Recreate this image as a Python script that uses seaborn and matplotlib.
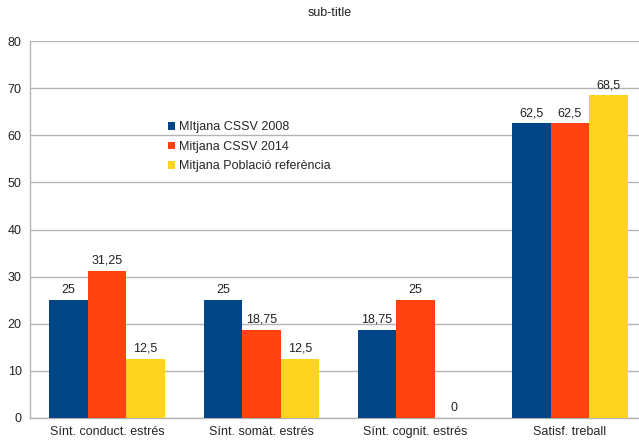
import matplotlib
matplotlib.use("Agg")
import matplotlib.pyplot as plt
import numpy as np
import pandas as pd
import seaborn as sns

categories = ["Sínt. conduct. estrés", "Sínt. somàt. estrés", "Sínt. cognit. estrés", "Satisf. treball"]
series = ["MItjana CSSV 2008", "Mitjana CSSV 2014", "Mitjana Població referència"]
vals_2008 = [25, 25, 18.75, 62.5]
vals_2014 = [31.25, 18.75, 25, 62.5]
vals_ref = [12.5, 12.5, 0, 68.5]
colors = ["#004586", "#ff420e", "#ffd320"]

if __name__ == '__main__':
    sns.set_style("white")
    plt.rcParams['font.family'] = ['Liberation Sans', 'DejaVu Sans']

    rows = []
    for name, vals in zip(series, [vals_2008, vals_2014, vals_ref]):
        for c, v in zip(categories, vals):
            rows.append({"cat": c, "serie": name, "val": v})
    df = pd.DataFrame(rows)

    fig = plt.figure(figsize=(6.39, 4.41), dpi=100)
    ax = fig.add_axes([30 / 639, 1 - 418 / 441, 617 / 639, 377 / 441])
    sns.barplot(data=df, x="cat", y="val", hue="serie", palette=colors,
                width=0.75, gap=0, saturation=1, ax=ax, legend=True, zorder=3,
                linewidth=0, edgecolor="none")

    for cont in ax.containers:
        labs = [("%g" % b.get_height()).replace(".", ",") for b in cont]
        ax.bar_label(cont, labels=labs, padding=3, fontsize=9, color="#222222")

    ax.set_xlim(-0.5, 3.5)
    ax.set_ylim(0, 80)
    ax.set_yticks(np.arange(0, 81, 10))
    ax.yaxis.grid(True, color="#b3b3b3", linewidth=1, zorder=0)
    ax.set_axisbelow(True)
    ax.set_xticks(np.arange(-0.5, 4, 1))
    ax.set_xticklabels([])
    ax.set_xticks(np.arange(0, 4), categories, minor=True)
    ax.tick_params(axis="x", which="major", length=6, color="#b3b3b3", width=1)
    ax.tick_params(axis="x", which="minor", length=0, labelsize=9, pad=6)
    ax.tick_params(axis="y", length=4, color="#b3b3b3", labelsize=9, pad=2)
    ax.tick_params(labelcolor="#222222")
    for s in ["top", "right"]:
        ax.spines[s].set_visible(False)
    for s in ["left", "bottom"]:
        ax.spines[s].set_color("#b3b3b3")
        ax.spines[s].set_linewidth(1)
    ax.set_xlabel("")
    ax.set_ylabel("")

    leg = ax.legend(loc="upper left", bbox_to_anchor=(0.215, 0.80), frameon=False,
                    fontsize=9, handlelength=0.6, handleheight=0.6,
                    handletextpad=0.3, labelspacing=0.6, borderaxespad=0)

    fig.text(330 / 639, 1 - 13 / 441, "sub-title", ha="center", va="center",
             fontsize=9, color="#222222")

    plt.savefig("out.png", dpi=100)
